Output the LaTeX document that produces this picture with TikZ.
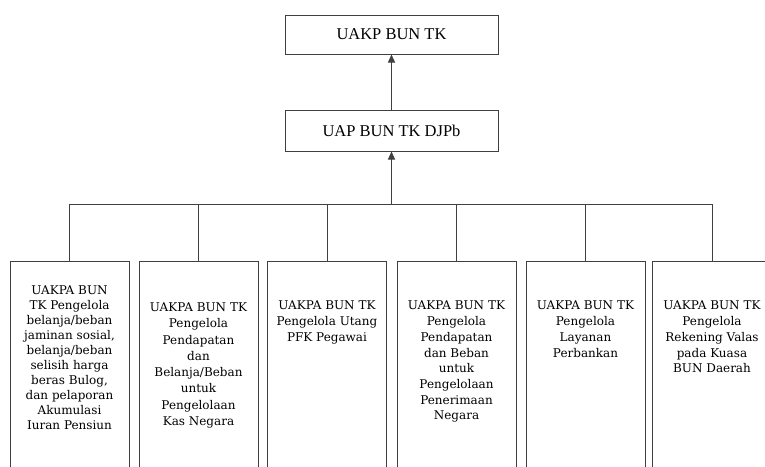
\documentclass[tikz,border=0pt]{standalone}
\usepackage{fontspec}
\setmainfont{Liberation Serif}
\newfontfamily\boxfont{DejaVu Serif}
\usetikzlibrary{positioning,arrows.meta}

\tikzset{
  unit/.style={draw=black!75, line width=1pt, minimum width=213pt,
    inner sep=0pt, font=\fontsize{16.5}{19}\selectfont},
  branch/.style={draw=black!75, line width=1pt, minimum width=119pt,
    minimum height=240pt, inner sep=0pt},
  desc/.style={align=center, inner sep=0pt,
    font=\boxfont\fontsize{12}{15.7}\selectfont},
  link/.style={draw=black!75, line width=1pt},
  up/.style={-{Triangle[length=8pt,width=7pt]}}
}

\begin{document}
\begin{tikzpicture}[x=1pt, y=-1pt]
  \useasboundingbox (0,0) rectangle (765,466);

  % upper levels
  \node[unit, minimum height=39pt] (uakp) at (391.5,34.5) {UAKP BUN TK};
  \node[unit, minimum height=41pt] (uap) at (391.5,130.5) {UAP BUN TK DJPb};
  \draw[link, up] (uap) -- (uakp);

  \coordinate (bus) at (391.5,204);
  \draw[link, up] (bus) -- (uap);

  % UAKPA boxes
  \foreach \x [count=\i] in {69.5,198.5,327,456.5,585.5,712} {
    \node[branch, anchor=north] (b\i) at (\x,261) {};
    \draw[link] (b\i.north) |- (bus);
  }

  \node[desc, font=\boxfont\fontsize{12}{15}\selectfont, below=25pt of b1.north] (t1)
    {UAKPA BUN\\TK Pengelola\\belanja/beban\\jaminan sosial,\\belanja/beban\\selisih harga\\beras Bulog,\\dan pelaporan\\Akumulasi\\Iuran Pensiun};
  \node[desc, font=\boxfont\fontsize{12}{16.3}\selectfont, below=41.5pt of b2.north] (t2)
    {UAKPA BUN TK\\Pengelola\\Pendapatan\\dan\\Belanja/Beban\\untuk\\Pengelolaan\\Kas Negara};
  \node[desc, below=40pt of b3.north] (t3)
    {UAKPA BUN TK\\Pengelola Utang\\PFK Pegawai};
  \node[desc, below=40pt of b4.north] (t4)
    {UAKPA BUN TK\\Pengelola\\Pendapatan\\dan Beban\\untuk\\Pengelolaan\\Penerimaan\\Negara};
  \node[desc, below=40pt of b5.north] (t5)
    {UAKPA BUN TK\\Pengelola\\Layanan\\Perbankan};
  \node[desc, below=40pt of b6.north] (t6)
    {UAKPA BUN TK\\Pengelola\\Rekening Valas\\pada Kuasa\\BUN Daerah};
\end{tikzpicture}
\end{document}
